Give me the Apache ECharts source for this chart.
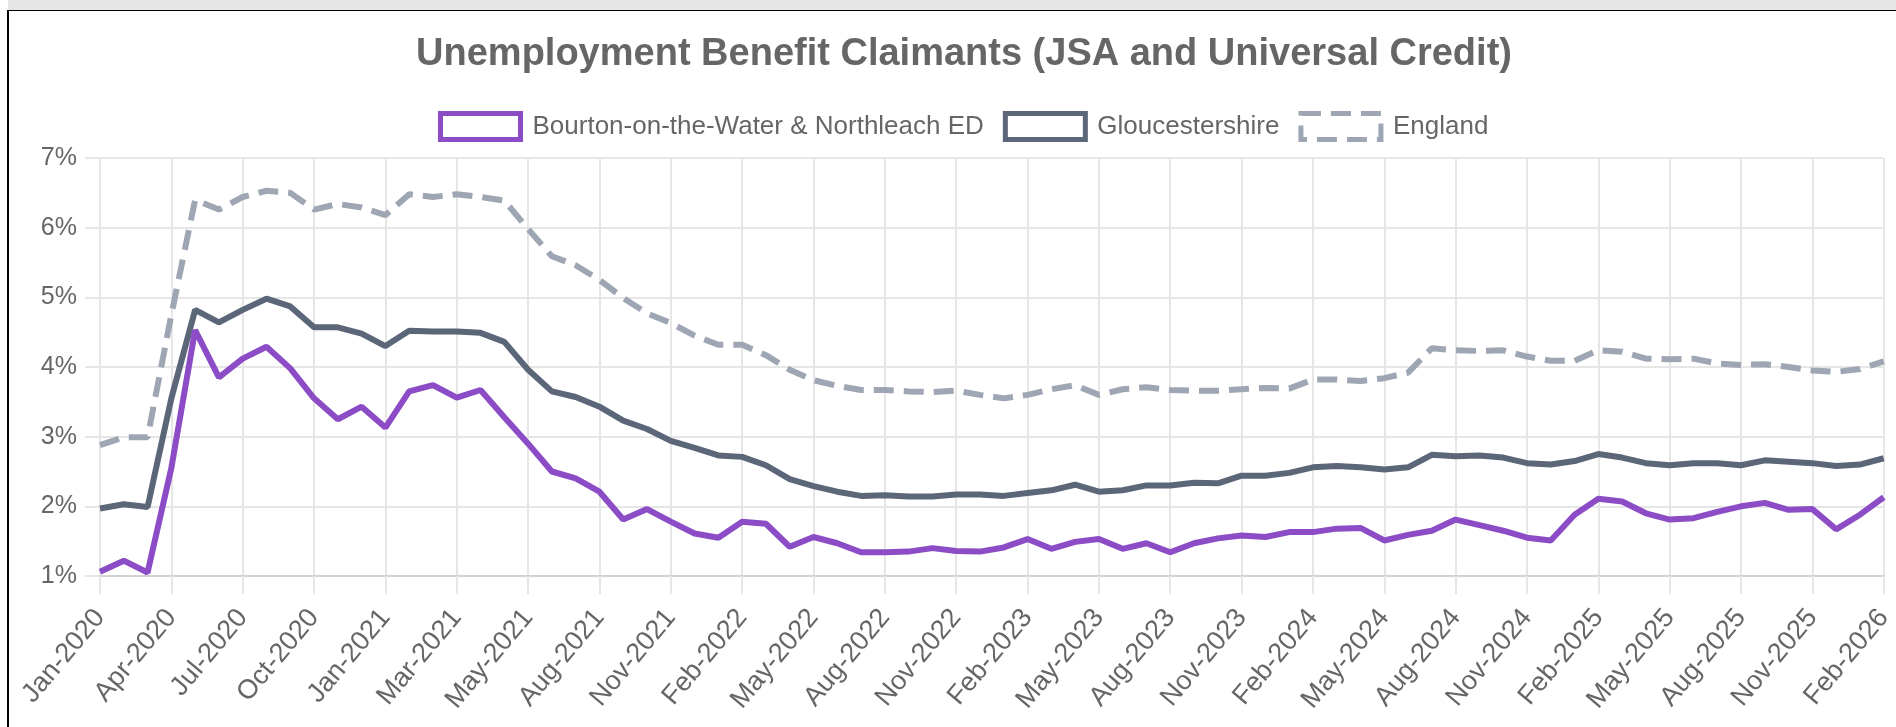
<!DOCTYPE html>
<html>
<head>
<meta charset="utf-8">
<title>Unemployment Benefit Claimants</title>
<script src="https://cdn.jsdelivr.net/npm/echarts@6/dist/echarts.min.js"></script>
<style>
    html, body {
        margin: 0;
        padding: 0;
        background: #fff;
        overflow: hidden;
    }
    #topband {
        position: absolute;
        left: 8px; top: 0; right: 0;
        height: 10px;
        background: #e6e6e6;
    }
    #frame {
        position: absolute;
        left: 7px; top: 10px; right: 0; bottom: 0;
        border-top: 1px solid #000;
        border-left: 2px solid #000;
    }
    #chart {
        position: absolute;
        left: 0; top: 0;
        width: 1896px;
        height: 727px;
    }
</style>
</head>
<body>
<div id="topband"></div>
<div id="frame"></div>
<div id="chart"></div>
<script>
    // months as they come in the source (two months appear twice in early 2021)
    var months = [
        'Jan-2020', 'Feb-2020', 'Mar-2020', 'Apr-2020', 'May-2020', 'Jun-2020',
        'Jul-2020', 'Aug-2020', 'Sep-2020', 'Oct-2020', 'Nov-2020', 'Dec-2020',
        'Jan-2021', 'Feb-2021', 'Feb-2021', 'Mar-2021', 'Apr-2021', 'Apr-2021',
        'May-2021', 'Jun-2021', 'Jul-2021', 'Aug-2021', 'Sep-2021', 'Oct-2021',
        'Nov-2021', 'Dec-2021', 'Jan-2022', 'Feb-2022', 'Mar-2022', 'Apr-2022',
        'May-2022', 'Jun-2022', 'Jul-2022', 'Aug-2022', 'Sep-2022', 'Oct-2022',
        'Nov-2022', 'Dec-2022', 'Jan-2023', 'Feb-2023', 'Mar-2023', 'Apr-2023',
        'May-2023', 'Jun-2023', 'Jul-2023', 'Aug-2023', 'Sep-2023', 'Oct-2023',
        'Nov-2023', 'Dec-2023', 'Jan-2024', 'Feb-2024', 'Mar-2024', 'Apr-2024',
        'May-2024', 'Jun-2024', 'Jul-2024', 'Aug-2024', 'Sep-2024', 'Oct-2024',
        'Nov-2024', 'Dec-2024', 'Jan-2025', 'Feb-2025', 'Mar-2025', 'Apr-2025',
        'May-2025', 'Jun-2025', 'Jul-2025', 'Aug-2025', 'Sep-2025', 'Oct-2025',
        'Nov-2025', 'Dec-2025', 'Jan-2026', 'Feb-2026'
    ];

    var bourton = [
        1.06, 1.22, 1.05, 2.55, 4.53, 3.85, 4.12, 4.29, 3.98, 3.55, 3.25, 3.43,
        3.13, 3.65, 3.74, 3.56, 3.67, 3.28, 2.90, 2.50, 2.40, 2.21, 1.81, 1.96,
        1.78, 1.61, 1.55, 1.78, 1.75, 1.42, 1.56, 1.47, 1.34, 1.34, 1.35, 1.40,
        1.36, 1.35, 1.41, 1.53, 1.39, 1.49, 1.53, 1.39, 1.47, 1.34, 1.47, 1.54,
        1.58, 1.56, 1.63, 1.63, 1.68, 1.69, 1.51, 1.59, 1.65, 1.81, 1.73, 1.65,
        1.55, 1.51, 1.88, 2.11, 2.07, 1.90, 1.81, 1.83, 1.92, 2.00, 2.05, 1.95,
        1.96, 1.67, 1.88, 2.13
    ];

    var gloucestershire = [
        1.97, 2.03, 1.99, 3.55, 4.82, 4.64, 4.82, 4.98, 4.87, 4.57, 4.57, 4.48,
        4.30, 4.52, 4.51, 4.51, 4.49, 4.36, 3.96, 3.65, 3.57, 3.43, 3.23, 3.11,
        2.94, 2.84, 2.73, 2.71, 2.59, 2.39, 2.29, 2.21, 2.15, 2.16, 2.14, 2.14,
        2.17, 2.17, 2.15, 2.19, 2.23, 2.31, 2.21, 2.23, 2.30, 2.30, 2.34, 2.33,
        2.44, 2.44, 2.48, 2.56, 2.58, 2.56, 2.53, 2.56, 2.74, 2.72, 2.73, 2.70,
        2.62, 2.60, 2.65, 2.75, 2.70, 2.62, 2.59, 2.62, 2.62, 2.59, 2.66, 2.64,
        2.62, 2.58, 2.60, 2.69
    ];

    var england = [
        2.88, 2.99, 2.99, 4.75, 6.40, 6.26, 6.44, 6.53, 6.50, 6.26, 6.34, 6.29,
        6.18, 6.48, 6.44, 6.48, 6.44, 6.39, 5.98, 5.59, 5.46, 5.25, 4.99, 4.77,
        4.63, 4.45, 4.32, 4.32, 4.17, 3.96, 3.81, 3.73, 3.67, 3.67, 3.65, 3.64,
        3.66, 3.60, 3.55, 3.60, 3.68, 3.74, 3.60, 3.68, 3.71, 3.67, 3.66, 3.66,
        3.68, 3.70, 3.69, 3.82, 3.82, 3.80, 3.84, 3.92, 4.27, 4.24, 4.23, 4.24,
        4.15, 4.09, 4.09, 4.24, 4.22, 4.12, 4.11, 4.12, 4.05, 4.03, 4.04, 4.00,
        3.95, 3.93, 3.97, 4.08
    ];

    var font = 'Liberation Sans, Arial, Helvetica, sans-serif';
    var gridColor = '#e6e6e6';
    var cPurple = '#8b4cc6';
    var cSlate = '#5b6679';
    var cGrey = '#9ea5b3';

    var chart = echarts.init(document.getElementById('chart'));
    chart.setOption({
        animation: false,
        title: {
            text: 'Unemployment Benefit Claimants (JSA and Universal Credit)',
            left: 959,
            textAlign: 'center',
            top: 31,
            textStyle: {
                fontFamily: font,
                fontSize: 38,
                fontWeight: 'bold',
                color: '#666'
            }
        },
        legend: {
            left: 433,
            top: 106,
            itemWidth: 80,
            itemHeight: 26,
            itemGap: 19,
            icon: 'rect',
            textStyle: {
                fontFamily: font,
                fontSize: 26,
                color: '#666',
                padding: [0, 0, 0, 7]
            },
            data: [
                {name: 'Bourton-on-the-Water & Northleach ED',
                    itemStyle: {color: '#fff', borderColor: cPurple, borderWidth: 5}},
                {name: 'Gloucestershire',
                    itemStyle: {color: '#fff', borderColor: cSlate, borderWidth: 5}},
                {name: 'England',
                    itemStyle: {color: '#fff', borderColor: cGrey, borderWidth: 5, borderType: [20, 10]}}
            ]
        },
        grid: {
            left: 100,
            right: 6,
            top: 158,
            bottom: 151
        },
        xAxis: {
            type: 'category',
            boundaryGap: false,
            data: months,
            axisLine: {lineStyle: {color: '#d2d2d2', width: 2}},
            axisTick: {interval: 2, length: 18, lineStyle: {color: gridColor, width: 2}},
            splitLine: {show: true, interval: 2, lineStyle: {color: gridColor, width: 2}},
            axisLabel: {
                interval: 2,
                rotate: 50,
                margin: 37,
                fontFamily: font,
                fontSize: 27,
                color: '#666'
            }
        },
        yAxis: {
            type: 'value',
            min: 1,
            max: 7,
            interval: 1,
            axisLine: {show: false},
            axisTick: {show: true, length: 15, lineStyle: {color: gridColor, width: 2}},
            splitLine: {lineStyle: {color: gridColor, width: 2}},
            axisLabel: {
                formatter: '{value}%',
                margin: 23,
                fontFamily: font,
                fontSize: 25,
                color: '#666'
            }
        },
        series: [
            {
                name: 'England',
                type: 'line',
                data: england,
                showSymbol: false,
                z: 2,
                lineStyle: {color: cGrey, width: 6, type: [20, 10]},
                itemStyle: {color: cGrey}
            },
            {
                name: 'Gloucestershire',
                type: 'line',
                data: gloucestershire,
                showSymbol: false,
                z: 3,
                lineStyle: {color: cSlate, width: 6},
                itemStyle: {color: cSlate}
            },
            {
                name: 'Bourton-on-the-Water & Northleach ED',
                type: 'line',
                data: bourton,
                showSymbol: false,
                z: 4,
                lineStyle: {color: cPurple, width: 6},
                itemStyle: {color: cPurple}
            }
        ]
    });
</script>
</body>
</html>
